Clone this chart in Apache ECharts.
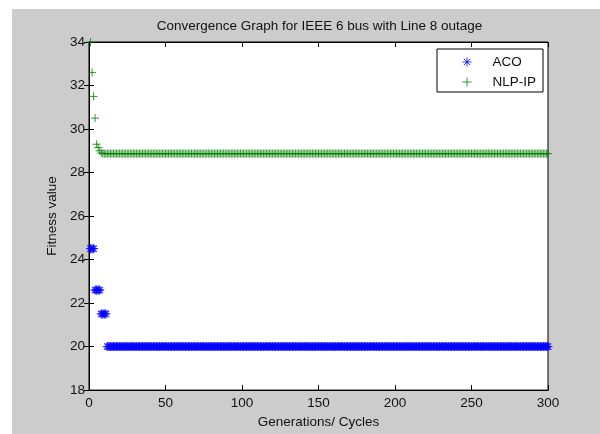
<!DOCTYPE html>
<html>
<head>
<meta charset="utf-8">
<script src="https://cdn.jsdelivr.net/npm/echarts@6/dist/echarts.min.js"></script>
<style>
html,body{margin:0;padding:0;background:#fff;width:600px;height:434px;overflow:hidden;}
#chart{position:absolute;left:12px;top:9px;width:588px;height:425px;background:#cccccc;}
</style>
</head>
<body>
<div id="chart"></div>
<script>
// Data: [value, number of consecutive generations]
const acoRuns = [[24.5, 3], [22.6, 4], [21.5, 4], [20.0, 289]];
const nlpRuns = [[34.0, 1], [32.6, 1], [31.5, 1], [30.5, 1], [29.3, 1], [29.15, 1], [29.0, 1], [28.9, 1], [28.87, 292]];
const seriesNames = ['ACO', 'NLP-IP'];
const yTicks = [18, 20, 22, 24, 26, 28, 30, 32, 34];
const xTicks = [0, 50, 100, 150, 200, 250, 300];

function expand(runs) {
  const out = [];
  let g = 1;
  runs.forEach(([v, n]) => { for (let i = 0; i < n; i++) { out.push([g, v]); g++; } });
  return out;
}
const acoData = expand(acoRuns);
const nlpData = expand(nlpRuns);

const starPath = 'path://M0,-4L0,4M-4,0L4,0M-2.83,-2.83L2.83,2.83M-2.83,2.83L2.83,-2.83';
const plusPath = 'path://M0,-4L0,4M-4,0L4,0';
const font = 'Liberation Sans, Arial, Helvetica, sans-serif';

const chart = echarts.init(document.getElementById('chart'), null, {renderer: 'canvas'});
const axisCommon = {
  axisLine: {show: true, lineStyle: {color: '#000', width: 1}},
  axisTick: {show: true, inside: true, length: 5, lineStyle: {color: '#000'}},
  splitLine: {show: false}
};
chart.setOption({
  animation: false,
  title: {
    text: 'Convergence Graph for IEEE 6 bus with Line 8 outage',
    left: 302.5, top: 5, textAlign: 'center',
    textStyle: {fontFamily: font, fontSize: 13.5, fontWeight: 'normal', color: '#111'}
  },
  grid: {left: 77, top: 33, width: 459, height: 350, show: true, backgroundColor: '#fff', borderColor: '#000', borderWidth: 1},
  legend: {
    orient: 'vertical', left: 425, top: 40,
    backgroundColor: '#fff', borderColor: '#000', borderWidth: 1,
    padding: [6, 7, 3, 25], itemGap: 6, itemWidth: 9, itemHeight: 9,
    textStyle: {fontFamily: font, fontSize: 13.5, color: '#111', padding: [0, 0, 0, 16]},
    data: [
      {name: seriesNames[0], icon: starPath, itemStyle: {color: 'rgba(0,0,0,0)', borderColor: '#0000ff', borderWidth: 1}},
      {name: seriesNames[1], icon: plusPath, itemStyle: {color: 'rgba(0,0,0,0)', borderColor: '#008000', borderWidth: 1}}
    ]
  },
  xAxis: [
    Object.assign({
      type: 'value', position: 'bottom', min: xTicks[0], max: xTicks[xTicks.length - 1], interval: 50,
      name: 'Generations/ Cycles', nameLocation: 'middle', nameGap: 22,
      nameTextStyle: {fontFamily: font, fontSize: 13.5, color: '#111'},
      axisLabel: {fontFamily: font, fontSize: 13.5, color: '#111', margin: 6}
    }, axisCommon),
    Object.assign({
      type: 'value', position: 'top', min: xTicks[0], max: xTicks[xTicks.length - 1], interval: 50,
      axisLabel: {show: false}
    }, axisCommon)
  ],
  yAxis: [
    Object.assign({
      type: 'value', position: 'left', min: yTicks[0], max: yTicks[yTicks.length - 1], interval: 2,
      name: 'Fitness value', nameLocation: 'middle', nameGap: 28,
      nameTextStyle: {fontFamily: font, fontSize: 13.5, color: '#111'},
      axisLabel: {fontFamily: font, fontSize: 13.5, color: '#111', margin: 4}
    }, axisCommon),
    Object.assign({
      type: 'value', position: 'right', min: yTicks[0], max: yTicks[yTicks.length - 1], interval: 2,
      axisLabel: {show: false}
    }, axisCommon)
  ],
  series: [
    {
      name: seriesNames[0], type: 'scatter', data: acoData, symbol: starPath, symbolSize: 9, clip: false,
      itemStyle: {color: 'rgba(0,0,0,0)', borderColor: '#0000ff', borderWidth: 1.3}
    },
    {
      name: seriesNames[1], type: 'scatter', data: nlpData, symbol: plusPath, symbolSize: 8, clip: false,
      itemStyle: {color: 'rgba(0,0,0,0)', borderColor: '#008000', borderWidth: 1}
    }
  ]
});
</script>
</body>
</html>
